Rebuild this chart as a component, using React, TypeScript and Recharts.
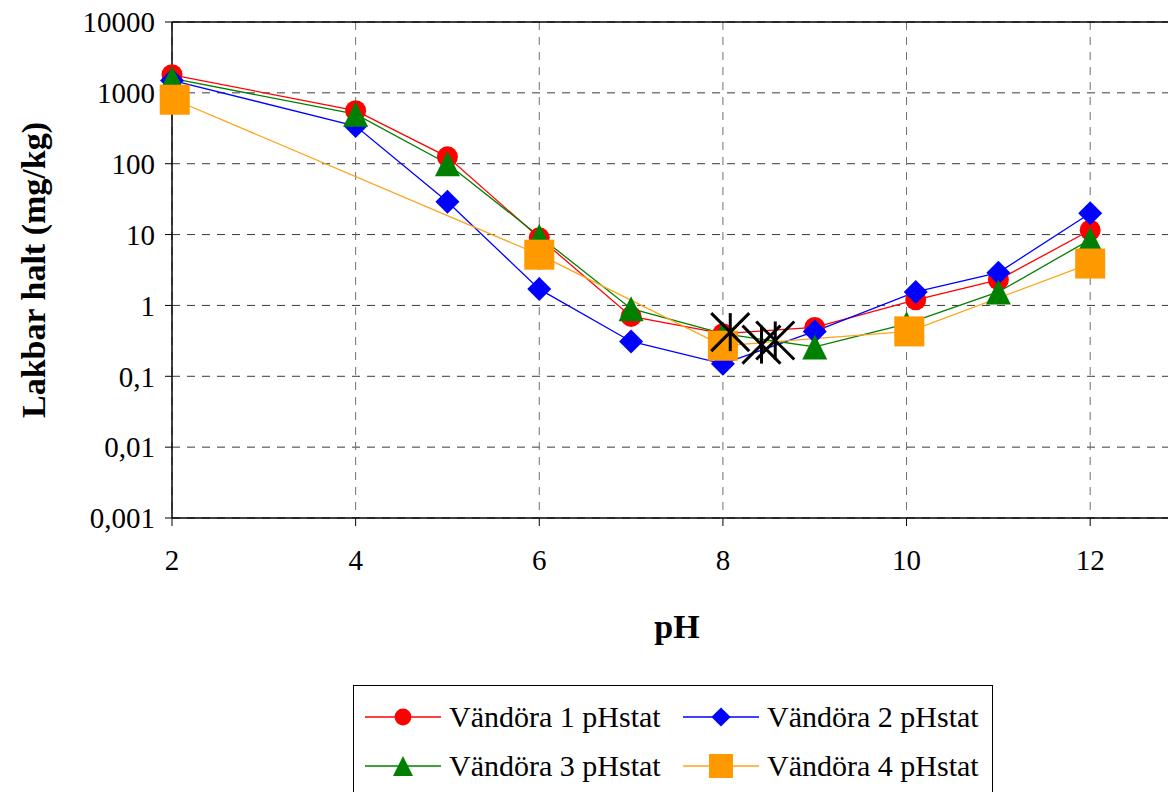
import {
  CartesianGrid,
  ComposedChart,
  Line,
  ReferenceLine,
  Scatter,
  XAxis,
  YAxis,
} from 'recharts';

const FONT = "'Liberation Serif', 'Times New Roman', serif";

// pH and leached amount (mg/kg)
const PH_1 = [2, 4, 5, 6, 7, 8, 9, 10.1, 11, 12];
const HALT_1 = [1800, 560, 125, 9, 0.7, 0.4, 0.49, 1.2, 2.3, 11.5];

const PH_2 = [2, 4, 5, 6, 7, 8, 9, 10.1, 11, 12];
const HALT_2 = [1500, 340, 29, 1.7, 0.31, 0.15, 0.43, 1.55, 2.9, 20];

const PH_3 = [2, 4, 5, 6, 7, 8, 9, 10, 11, 12];
const HALT_3 = [1600, 500, 100, 9.5, 0.9, 0.4, 0.26, 0.55, 1.55, 8.5];

const PH_4 = [2.03, 6, 8, 10.03, 12];
const HALT_4 = [800, 5.2, 0.27, 0.43, 3.9];

// unlabelled black star points
const PH_STAR = [8.08, 8.42, 8.57];
const HALT_STAR = [0.42, 0.28, 0.32];

const X_TICKS = [2, 4, 6, 8, 10, 12];
const Y_TICKS = [0.001, 0.01, 0.1, 1, 10, 100, 1000, 10000];

type Pt = { ph: number; v: number };
const toPoints = (ph: number[], v: number[]): Pt[] =>
  ph.map((p, i) => ({ ph: p, v: v[i] }));

type MarkerType = 'circle' | 'diamond' | 'triangle' | 'square';

const SERIES: {
  name: string;
  line: string;
  fill: string;
  marker: MarkerType;
  data: Pt[];
}[] = [
  { name: 'Vändöra 1 pHstat', line: '#ff0000', fill: '#ff0000', marker: 'circle', data: toPoints(PH_1, HALT_1) },
  { name: 'Vändöra 2 pHstat', line: '#0000ff', fill: '#0000ff', marker: 'diamond', data: toPoints(PH_2, HALT_2) },
  { name: 'Vändöra 3 pHstat', line: '#008000', fill: '#008000', marker: 'triangle', data: toPoints(PH_3, HALT_3) },
  { name: 'Vändöra 4 pHstat', line: '#ffa31a', fill: '#ff9900', marker: 'square', data: toPoints(PH_4, HALT_4) },
];

const STARS = toPoints(PH_STAR, HALT_STAR);

const Marker = ({
  type,
  cx,
  cy,
  fill,
  k = 1,
}: {
  type: MarkerType;
  cx: number;
  cy: number;
  fill: string;
  k?: number;
}) => {
  if (cx == null || cy == null) return null;
  switch (type) {
    case 'circle':
      return <circle cx={cx} cy={cy} r={10.5 * k} fill={fill} />;
    case 'diamond': {
      const d = 12 * k;
      return (
        <polygon
          points={`${cx},${cy - d} ${cx + d},${cy} ${cx},${cy + d} ${cx - d},${cy}`}
          fill={fill}
        />
      );
    }
    case 'triangle': {
      const d = 12.5 * k;
      return (
        <polygon
          points={`${cx},${cy - d} ${cx + d},${cy + d} ${cx - d},${cy + d}`}
          fill={fill}
        />
      );
    }
    default: {
      const d = 15 * k;
      return <rect x={cx - d} y={cy - d} width={2 * d} height={2 * d} fill={fill} />;
    }
  }
};

const Star = (props: any) => {
  const { cx, cy } = props;
  const d = 19;
  return (
    <g stroke="#000" strokeWidth={3}>
      <line x1={cx - d} y1={cy - d} x2={cx + d} y2={cy + d} />
      <line x1={cx + d} y1={cy - d} x2={cx - d} y2={cy + d} />
      <line x1={cx} y1={cy - d} x2={cx} y2={cy + d} />
    </g>
  );
};

const tickStyle = { fill: '#000', fontSize: 29, fontFamily: FONT };
const titleStyle = { fill: '#000', fontSize: 34, fontWeight: 'bold', fontFamily: FONT };

const App = () => {
  return (
    <div
      style={{
        position: 'fixed',
        left: 0,
        top: 0,
        width: 1168,
        height: 792,
        overflow: 'hidden',
        background: '#fff',
        fontFamily: FONT,
      }}
    >
      <ComposedChart
        width={1200}
        height={792}
        margin={{ top: 22, right: 18, left: 0, bottom: 0 }}
      >
        <CartesianGrid
          vertical={false}
          stroke="#3a3a3a"
          strokeDasharray="8 7"
        />
        <CartesianGrid
          horizontal={false}
          stroke="#707070"
          strokeDasharray="8 7"
        />
        <XAxis
          type="number"
          dataKey="ph"
          domain={[2, 13]}
          ticks={X_TICKS}
          height={274}
          tickSize={8}
          tickMargin={23}
          tick={tickStyle}
          axisLine={{ stroke: '#000', strokeWidth: 1.5 }}
          tickLine={{ stroke: '#000' }}
          label={{ value: 'pH', position: 'insideTop', offset: 96, style: titleStyle }}
        />
        <YAxis
          type="number"
          dataKey="v"
          scale="log"
          domain={[0.001, 10000]}
          ticks={Y_TICKS}
          width={172}
          tickSize={7}
          tickMargin={10}
          tick={tickStyle}
          tickFormatter={(v: number) => String(v).replace('.', ',')}
          axisLine={{ stroke: '#000', strokeWidth: 1.5 }}
          tickLine={{ stroke: '#000' }}
          label={{
            value: 'Lakbar halt (mg/kg)',
            angle: -90,
            position: 'insideLeft',
            offset: 33,
            style: { ...titleStyle, textAnchor: 'middle' },
          }}
        />
        <ReferenceLine y={10000} stroke="#000" strokeWidth={1.5} />
        {SERIES.map((s) => (
          <Line
            key={s.name}
            data={s.data}
            dataKey="v"
            name={s.name}
            stroke={s.line}
            strokeWidth={1.3}
            isAnimationActive={false}
            activeDot={false}
            dot={(p: any) => (
              <Marker
                key={`${s.name}-${p.index}`}
                type={s.marker}
                cx={p.cx}
                cy={p.cy}
                fill={s.fill}
              />
            )}
          />
        ))}
        <Scatter
          data={STARS}
          dataKey="v"
          shape={Star}
          isAnimationActive={false}
        />
      </ComposedChart>

      <div
        style={{
          position: 'absolute',
          left: 353,
          top: 685,
          width: 640,
          height: 130,
          border: '1.5px solid #000',
          boxSizing: 'border-box',
          background: '#fff',
        }}
      >
        {SERIES.map((s, i) => {
          const col = i % 2;
          const row = Math.floor(i / 2);
          return (
            <div
              key={s.name}
              style={{
                position: 'absolute',
                left: 11 + col * 318,
                top: 11 + row * 49,
                height: 40,
                display: 'flex',
                alignItems: 'center',
                whiteSpace: 'nowrap',
              }}
            >
              <svg width={76} height={40}>
                <line x1={0} y1={20} x2={76} y2={20} stroke={s.line} strokeWidth={1.3} />
                <Marker type={s.marker} cx={38} cy={20} fill={s.fill} k={0.8} />
              </svg>
              <span style={{ marginLeft: 8, fontSize: 30, lineHeight: '40px', color: '#000' }}>
                {s.name}
              </span>
            </div>
          );
        })}
      </div>
    </div>
  );
};

export default App;
